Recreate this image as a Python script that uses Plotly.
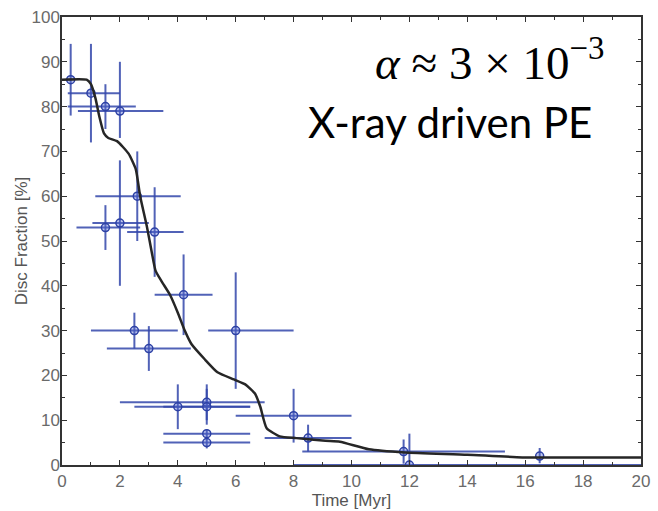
import plotly.graph_objects as go

# Observed disc fractions (Time [Myr], Disc Fraction [%])
time_myr = [0.3, 1.0, 1.5, 2.0, 2.6, 1.5, 2.0, 3.2, 4.2, 2.5, 3.0, 6.0, 4.0, 5.0, 5.0, 5.0, 5.0, 8.0, 8.5, 11.8, 12.0, 16.5]
disc_frac = [86, 83, 80, 79, 60, 53, 54, 52, 38, 30, 26, 30, 13, 14, 13, 7, 5, 11, 6, 3, 0, 2]
t_err_plus = [0, 1.0, 1.05, 1.5, 1.5, 1.2, 1.0, 1.0, 1.0, 1.5, 1.45, 2.0, 2.5, 2.0, 1.5, 1.5, 1.5, 2.0, 1.5, 3.5, 8.0, 0]
t_err_minus = [0, 0.8, 1.3, 1.45, 1.45, 1.0, 0.95, 0.95, 1.0, 1.5, 1.45, 0.95, 1.5, 3.0, 1.5, 1.5, 1.5, 2.0, 1.5, 3.5, 4.0, 0]
f_err_plus = [8, 11, 5, 11, 10, 5, 14, 10, 9, 4, 5, 13, 5, 4, 4, 1, 1.3, 6, 3, 2.7, 7, 1.8]
f_err_minus = [8, 11, 5, 6, 10, 5, 14, 10, 9, 4, 5, 13, 5, 4, 4, 1, 1.3, 6, 3, 2.7, 0, 1.6]

# Model curve
model_t = [0, 0.85, 1.0, 1.15, 1.3, 1.45, 1.6, 1.9, 2.3, 2.55, 2.7, 2.93, 3.1, 3.23, 3.44, 3.73,
           4.0, 4.24, 4.47, 4.93, 5.37, 5.94, 6.33, 6.67, 6.85, 7.07, 7.52, 8.1, 9.1, 9.6, 10.6,
           11.84, 14.0, 15.9, 20]
model_f = [86, 86, 85, 82, 77.5, 74, 73, 72.3, 69.5, 66, 60, 53.3, 47.5, 43.4, 41, 38,
           34, 30, 27, 23.6, 20.7, 19.1, 18, 15.9, 13, 8.2, 6.4, 6, 5.4, 5.2, 3.5,
           2.8, 2.3, 1.7, 1.7]

x_ticks = list(range(0, 21, 2))
y_ticks = list(range(0, 101, 10))

blue = "rgba(50,70,170,0.85)"

fig = go.Figure()
fig.add_trace(go.Scatter(
    x=time_myr, y=disc_frac, mode="markers",
    marker=dict(symbol="circle", size=8, color="rgba(90,110,210,0.4)",
                line=dict(color="rgb(45,65,165)", width=1.5)),
    error_x=dict(type="data", array=t_err_plus, arrayminus=t_err_minus, symmetric=False,
                 color=blue, thickness=2, width=0),
    error_y=dict(type="data", array=f_err_plus, arrayminus=f_err_minus, symmetric=False,
                 color=blue, thickness=2, width=0),
    showlegend=False,
))
fig.add_trace(go.Scatter(
    x=model_t, y=model_f, mode="lines",
    line=dict(color="#262626", width=2.5, shape="spline", smoothing=0.5),
    showlegend=False,
))

axis_common = dict(
    showline=True, linecolor="#333333", linewidth=1.5, mirror="ticks",
    ticks="inside", ticklen=5, tickwidth=1, tickcolor="#333333",
    showgrid=False, zeroline=False,
    tickfont=dict(family="Liberation Sans, Arial, sans-serif", size=17, color="#6a6a6a"),
)

fig.update_xaxes(
    range=[0, 20], tickvals=x_ticks, ticktext=[str(v) for v in x_ticks],
    minor=dict(dtick=1, ticklen=3, ticks="inside", tickcolor="#333333"),
    title=dict(text="Time [Myr]", standoff=0,
               font=dict(family="Liberation Sans, Arial, sans-serif", size=17, color="#555555")),
    ticklabelstandoff=0,
    **axis_common,
)
fig.update_yaxes(
    range=[0, 100], tickvals=y_ticks, ticktext=[str(v) for v in y_ticks],
    minor=dict(dtick=5, ticklen=3, ticks="inside", tickcolor="#333333"),
    title=dict(text="Disc Fraction [%]", standoff=0,
               font=dict(family="Liberation Sans, Arial, sans-serif", size=17, color="#555555")),
    ticklabelstandoff=-3,
    **axis_common,
)

fig.add_annotation(
    xref="paper", yref="paper", x=0.738, y=0.905, xanchor="center", yanchor="middle",
    text="<i>α</i> ≈ 3 × 10<sup>−3</sup>", showarrow=False,
    font=dict(family="Liberation Serif, DejaVu Serif, serif", size=47, color="#000000"),
)
fig.add_annotation(
    xref="paper", yref="paper", x=0.67, y=0.765, xanchor="center", yanchor="middle",
    text="X-ray driven PE", showarrow=False,
    font=dict(family="Lato, Open Sans, sans-serif", size=42, color="#000000"),
)

fig.update_layout(
    width=658, height=511,
    margin=dict(l=62, r=8, t=15, b=42),
    paper_bgcolor="white", plot_bgcolor="white",
)

fig.write_html("out.html")
